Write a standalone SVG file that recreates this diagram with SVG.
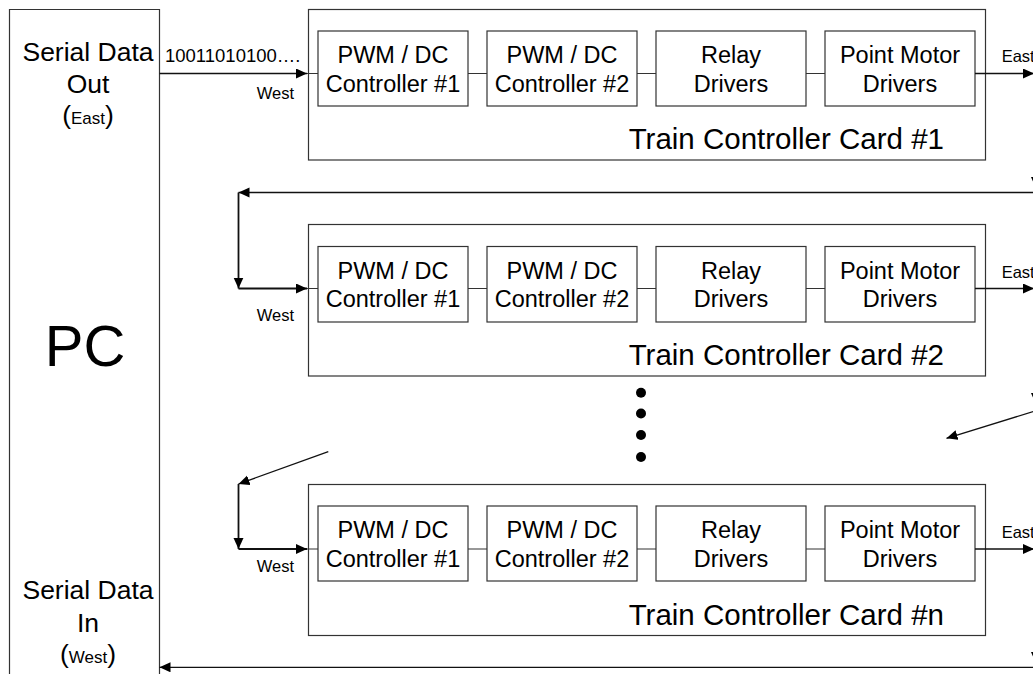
<svg xmlns="http://www.w3.org/2000/svg" width="1033" height="674" viewBox="0 0 1033 674">
<defs>
<marker id="ah" markerUnits="userSpaceOnUse" markerWidth="13" markerHeight="11" refX="11" refY="5" orient="auto">
<path d="M0,0 L11,5 L0,10 z" fill="#000"/>
</marker>
<style>
.box{fill:#fff;stroke:#333;stroke-width:1.2}
.ln{fill:none;stroke:#333;stroke-width:1.2}
.arr{fill:none;stroke:#111;stroke-width:1.3;marker-end:url(#ah)}
.thk{stroke-width:1.8}
.t{font-family:"Liberation Sans",Arial,sans-serif;fill:#000}
.bt{font-size:23.5px;text-anchor:middle}
.ct{font-size:29.5px;text-anchor:end}
.sm{font-size:16.5px}
.pc{font-size:26.5px;text-anchor:middle}
</style>
</defs>
<rect width="1033" height="674" fill="#fff"/>

<g id="pc">
<path class="ln" d="M9.5,674 V9.5 H159.5 V674"/>
<text class="t pc" x="88" y="60.7">Serial Data</text>
<text class="t pc" x="88" y="92.7">Out</text>
<text class="t pc" x="88" y="124">(<tspan font-size="17">East</tspan>)</text>
<text class="t" x="85" y="366" font-size="58" text-anchor="middle">PC</text>
<text class="t pc" x="88" y="599.3">Serial Data</text>
<text class="t pc" x="88" y="631.7">In</text>
<text class="t pc" x="88" y="663.3">(<tspan font-size="17">West</tspan>)</text>
</g>

<g id="card1">
<rect class="box" x="308.5" y="9.5" width="677" height="150.5"/>
<rect class="box" x="318" y="31" width="150" height="75"/>
<rect class="box" x="487" y="31" width="150" height="75"/>
<rect class="box" x="656" y="31" width="150" height="75"/>
<rect class="box" x="825" y="31" width="150" height="75"/>
<text class="t bt" x="393" y="63.3">PWM / DC</text>
<text class="t bt" x="393" y="91.7">Controller #1</text>
<text class="t bt" x="562" y="63.3">PWM / DC</text>
<text class="t bt" x="562" y="91.7">Controller #2</text>
<text class="t bt" x="731" y="63.3">Relay</text>
<text class="t bt" x="731" y="91.7">Drivers</text>
<text class="t bt" x="900" y="63.3">Point Motor</text>
<text class="t bt" x="900" y="91.7">Drivers</text>
<text class="t ct" x="944" y="149">Train Controller Card #1</text>
</g>

<g id="card2">
<rect class="box" x="308.5" y="224.5" width="677" height="151.5"/>
<rect class="box" x="318" y="246.5" width="150" height="75.5"/>
<rect class="box" x="487" y="246.5" width="150" height="75.5"/>
<rect class="box" x="656" y="246.5" width="150" height="75.5"/>
<rect class="box" x="825" y="246.5" width="150" height="75.5"/>
<text class="t bt" x="393" y="279">PWM / DC</text>
<text class="t bt" x="393" y="307.4">Controller #1</text>
<text class="t bt" x="562" y="279">PWM / DC</text>
<text class="t bt" x="562" y="307.4">Controller #2</text>
<text class="t bt" x="731" y="279">Relay</text>
<text class="t bt" x="731" y="307.4">Drivers</text>
<text class="t bt" x="900" y="279">Point Motor</text>
<text class="t bt" x="900" y="307.4">Drivers</text>
<text class="t ct" x="944" y="364.5">Train Controller Card #2</text>
</g>

<g id="dots" fill="#000">
<circle cx="641" cy="392.7" r="5"/>
<circle cx="641" cy="413.5" r="5"/>
<circle cx="641" cy="435" r="5"/>
<circle cx="641" cy="457" r="5"/>
</g>

<g id="cardn">
<rect class="box" x="308.5" y="484.5" width="677" height="151"/>
<rect class="box" x="318" y="506" width="150" height="75"/>
<rect class="box" x="487" y="506" width="150" height="75"/>
<rect class="box" x="656" y="506" width="150" height="75"/>
<rect class="box" x="825" y="506" width="150" height="75"/>
<text class="t bt" x="393" y="538.3">PWM / DC</text>
<text class="t bt" x="393" y="566.7">Controller #1</text>
<text class="t bt" x="562" y="538.3">PWM / DC</text>
<text class="t bt" x="562" y="566.7">Controller #2</text>
<text class="t bt" x="731" y="538.3">Relay</text>
<text class="t bt" x="731" y="566.7">Drivers</text>
<text class="t bt" x="900" y="538.3">Point Motor</text>
<text class="t bt" x="900" y="566.7">Drivers</text>
<text class="t ct" x="944" y="624.5">Train Controller Card #n</text>
</g>

<g id="connectors">
<!-- card 1 -->
<line class="arr" x1="159.5" y1="73.5" x2="307" y2="73.5"/>
<path class="ln" d="M307,73.5 H318 M468,73.5 H487 M637,73.5 H656 M806,73.5 H825"/>
<line class="arr" x1="975" y1="73.5" x2="1034" y2="73.5"/>
<!-- card 2 -->
<line class="arr" x1="1040" y1="192.5" x2="238.5" y2="192.5"/>
<line class="arr thk" x1="238.5" y1="192.5" x2="238.5" y2="288.5"/>
<line class="arr thk" x1="238.5" y1="288.5" x2="307" y2="288.5"/>
<path class="ln" d="M307,288.5 H318 M468,288.5 H487 M637,288.5 H656 M806,288.5 H825"/>
<line class="arr" x1="975" y1="288.5" x2="1034" y2="288.5"/>
<path d="M1031,177 L1041,177 L1036,188 z" fill="#000"/>
<!-- middle -->
<path d="M1031,393 L1041,393 L1036,404 z" fill="#000"/>
<line class="arr" x1="1040" y1="409.5" x2="946.5" y2="438.3"/>
<line class="arr" x1="328.3" y1="451.7" x2="238.5" y2="484"/>
<!-- card n -->
<line class="arr thk" x1="238.5" y1="484" x2="238.5" y2="549"/>
<line class="arr thk" x1="238.5" y1="549" x2="307" y2="549"/>
<path class="ln" d="M307,549 H318 M468,549 H487 M637,549 H656 M806,549 H825"/>
<line class="arr" x1="975" y1="549" x2="1034" y2="549"/>
<path d="M1031,652 L1041,652 L1036,663 z" fill="#000"/>
<line class="arr" x1="1040" y1="667.3" x2="159.5" y2="667.3"/>
</g>

<g id="labels">
<text class="t" x="165" y="61.7" font-size="18.5">10011010100….</text>
<text class="t sm" x="256.7" y="99">West</text>
<text class="t sm" x="256.7" y="320.5">West</text>
<text class="t sm" x="256.7" y="571.7">West</text>
<text class="t sm" x="1001.7" y="62.3">East</text>
<text class="t sm" x="1001.7" y="278.3">East</text>
<text class="t sm" x="1001.7" y="538">East</text>
</g>
</svg>
